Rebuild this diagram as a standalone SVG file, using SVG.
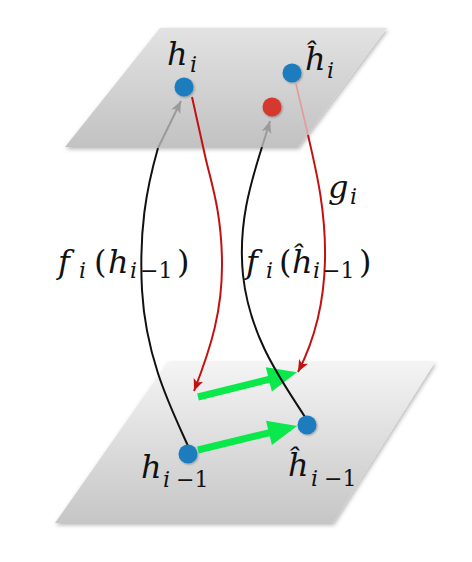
<svg xmlns="http://www.w3.org/2000/svg" width="472" height="562" viewBox="0 0 472 562">
<style>
.blk{fill:none;stroke:#111;stroke-width:2}
.gry{fill:none;stroke:#9a9a9a;stroke-width:2}
.red{fill:none;stroke:#c41010;stroke-width:2}
.pnk{fill:none;stroke:#e29a9a;stroke-width:1.6}
.dot{fill:#1c7cbd}
.rdot{fill:#d4382e}
.grn{fill:#0be84c}
</style>
<defs>
<linearGradient id="gTop" x1="0" y1="0" x2="0" y2="1">
<stop offset="0" stop-color="#e2e2e2"/><stop offset="1" stop-color="#c2c2c2"/>
</linearGradient>
<linearGradient id="gBot" x1="0" y1="0" x2="0" y2="1">
<stop offset="0" stop-color="#f4f4f4"/><stop offset="1" stop-color="#c6c6c6"/>
</linearGradient>
<filter id="sh" x="-10%" y="-10%" width="130%" height="130%">
<feDropShadow dx="1" dy="2" stdDeviation="2" flood-color="#000" flood-opacity="0.3"/>
</filter>
<filter id="dsh" x="-50%" y="-50%" width="200%" height="200%">
<feDropShadow dx="1" dy="1" stdDeviation="1" flood-color="#000" flood-opacity="0.3"/>
</filter>
<marker id="mr" markerUnits="userSpaceOnUse" markerWidth="13" markerHeight="11" refX="12" refY="5" orient="auto">
<path d="M0,0 L12,5 L0,10 L3,5 z" fill="#c41010"/>
</marker>
<marker id="mg" markerUnits="userSpaceOnUse" markerWidth="13" markerHeight="11" refX="12" refY="5" orient="auto">
<path d="M0,0 L12,5 L0,10 L3,5 z" fill="#9a9a9a"/>
</marker>
<path id="garrow" d="M0,-3.5 L73,-3.5 L73,-12.5 L102,0 L73,12.5 L73,3.5 L0,3.5 z"/>
</defs>

<g id="plane-top">
<polygon points="160,28 387,28 298,147 65,147" fill="url(#gTop)" filter="url(#sh)"/>
</g>
<g id="plane-bottom">
<polygon points="168,362 435,362 333,523 55,523" fill="url(#gBot)" filter="url(#sh)"/>
</g>

<g id="connectors">
<use href="#garrow" class="grn" transform="translate(198,397) rotate(-14)"/>
<use href="#garrow" class="grn" transform="translate(198,450) rotate(-13.6)"/>
<path class="blk" d="M188,446 C172,410 146,360 142,290 C139,230 146,190 158,148"/>
<path class="gry" d="M158,148 L181,101" marker-end="url(#mg)"/>
<path class="blk" d="M305,417 C285,385 250,340 243,275 C238,225 250,185 262,147"/>
<path class="gry" d="M262,147 L270,121" marker-end="url(#mg)"/>
<path class="red" d="M192,97 L206,160 C212,185 222,215 222,265 C222,310 212,345 194,391" marker-end="url(#mr)"/>
<path class="pnk" d="M296,84 L308,135"/>
<path class="red" d="M308,135 C316,170 326,210 325,260 C324,310 312,345 298,372" marker-end="url(#mr)"/>
</g>

<g id="node-hi">
<circle class="dot" cx="184" cy="87" r="9.5" filter="url(#dsh)"/>
<text font-family="DejaVu Serif, serif" font-style="italic" font-size="32" fill="#111"><tspan x="167" y="65">h</tspan><tspan font-size="22" x="190" y="72">i</tspan></text>
</g>
<g id="node-hhat-i">
<circle class="dot" cx="292" cy="73" r="9.5" filter="url(#dsh)"/>
<text font-family="DejaVu Serif, serif" font-style="italic" font-size="32" fill="#111"><tspan x="305" y="70">ĥ</tspan><tspan font-size="22" x="327" y="78">i</tspan></text>
</g>
<g id="node-red">
<circle class="rdot" cx="272" cy="107" r="9.5" filter="url(#dsh)"/>
</g>
<g id="node-hi-1">
<circle class="dot" cx="188" cy="454" r="9.5" filter="url(#dsh)"/>
<text font-family="DejaVu Serif, serif" font-style="italic" font-size="32" fill="#111"><tspan x="141" y="478">h</tspan><tspan font-size="22" x="163" y="487">i</tspan><tspan font-size="22" font-style="normal" x="176" y="487">−1</tspan></text>
</g>
<g id="node-hhat-i-1">
<circle class="dot" cx="307" cy="425" r="9.5" filter="url(#dsh)"/>
<text font-family="DejaVu Serif, serif" font-style="italic" font-size="32" fill="#111"><tspan x="288" y="476">ĥ</tspan><tspan font-size="22" x="311" y="486">i</tspan><tspan font-size="22" font-style="normal" x="324" y="486">−1</tspan></text>
</g>

<g id="labels">
<text font-family="DejaVu Serif, serif" font-style="italic" font-size="32" fill="#111"><tspan x="328" y="198">g</tspan><tspan font-size="22" x="350" y="204">i</tspan></text>
<text font-family="DejaVu Serif, serif" font-style="italic" font-size="32" fill="#111"><tspan x="58" y="273">f</tspan><tspan font-size="22" x="79" y="278">i</tspan><tspan font-style="normal" x="94" y="273">(</tspan><tspan x="108" y="273">h</tspan><tspan font-size="22" x="130" y="278">i</tspan><tspan font-size="22" font-style="normal" x="140" y="278">−1</tspan><tspan font-style="normal" x="177" y="273">)</tspan></text>
<text font-family="DejaVu Serif, serif" font-style="italic" font-size="32" fill="#111"><tspan x="246" y="273">f</tspan><tspan font-size="22" x="266" y="278">i</tspan><tspan font-style="normal" x="279" y="273">(</tspan><tspan x="292" y="273">ĥ</tspan><tspan font-size="22" x="313" y="278">i</tspan><tspan font-size="22" font-style="normal" x="322" y="278">−1</tspan><tspan font-style="normal" x="359" y="273">)</tspan></text>
</g>
</svg>
